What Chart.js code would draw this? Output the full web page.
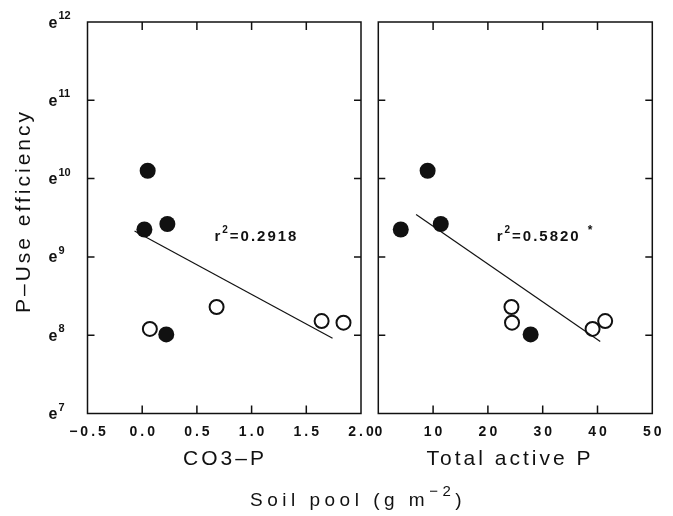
<!DOCTYPE html>
<html>
<head>
<meta charset="utf-8">
<script src="https://cdn.jsdelivr.net/npm/chart.js@4.4.0/dist/chart.umd.min.js"></script>
<style>
  body { margin: 0; background: #fff; }
  #wrap { position: relative; width: 673px; height: 516px; }
  #wrap canvas { position: absolute; left: 0; top: 0; }
</style>
</head>
<body>
<div id="wrap">
  <canvas id="left" width="673" height="516"></canvas>
  <canvas id="right" width="673" height="516"></canvas>
</div>
<script>
// P-use efficiency, stored as the exponent of e
const effFilled = [10.10, 9.35, 9.42, 8.01];
const effOpen = [8.08, 8.36, 8.18, 8.16];

// soil pools (g m-2), same sites in both panels
const co3Filled = [0.05, 0.02, 0.23, 0.22];
const co3Open = [0.07, 0.68, 1.64, 1.84];
const activeFilled = [9.0, 4.1, 11.4, 27.8];
const activeOpen = [39.1, 24.3, 41.4, 24.4];

// regression lines, end points
const co3FitX = [-0.07, 1.74];
const co3FitY = [9.33, 7.96];
const activeFitX = [6.9, 40.5];
const activeFitY = [9.54, 7.92];

// ticks
const yExp = [7, 8, 9, 10, 11, 12];
const co3Ticks = [-0.5, 0, 0.5, 1.0, 1.5, 2.0];
const co3Labels = ["\u22120.5", "0.0", "0.5", "1.0", "1.5", "2.0"];
const activeTicks = [0, 10, 20, 30, 40, 50];
const activeLabels = ["0", "10", "20", "30", "40", "50"];

const INK = "#111";
const FONT = '"Liberation Sans", Arial, sans-serif';

function pts(xs, ys) {
  return xs.map((x, i) => ({ x: x, y: ys[i] }));
}

// draws base text then a raised smaller part, returns end x
function supText(ctx, x, y, base, sup, baseFont, supFont, rise) {
  ctx.font = baseFont;
  ctx.fillText(base, x, y);
  x += ctx.measureText(base).width;
  ctx.font = supFont;
  ctx.fillText(sup, x, y - rise);
  return x + ctx.measureText(sup).width;
}

// frame, inward ticks, labels and titles
const frame = {
  id: "frame",
  afterDraw(chart, args, o) {
    const ctx = chart.ctx, a = chart.chartArea;
    const xs = chart.scales.x, ys = chart.scales.y;
    ctx.save();
    ctx.strokeStyle = INK;
    ctx.fillStyle = INK;
    ctx.lineWidth = 1.5;
    ctx.strokeRect(a.left, a.top, a.right - a.left, a.bottom - a.top);

    ctx.beginPath();
    o.xTicks.forEach(v => {
      const px = xs.getPixelForValue(v);
      if (px > a.left + 2 && px < a.right - 2) {
        ctx.moveTo(px, a.bottom); ctx.lineTo(px, a.bottom - 8);
        ctx.moveTo(px, a.top); ctx.lineTo(px, a.top + 8);
      }
    });
    yExp.forEach(v => {
      const py = ys.getPixelForValue(v);
      if (py > a.top + 2 && py < a.bottom - 2) {
        ctx.moveTo(a.left, py); ctx.lineTo(a.left + 7, py);
        ctx.moveTo(a.right, py); ctx.lineTo(a.right - 7, py);
      }
    });
    ctx.stroke();

    // x tick labels
    ctx.font = "bold 14px " + FONT;
    ctx.letterSpacing = "3px";
    ctx.textAlign = "center";
    ctx.textBaseline = "middle";
    o.xTicks.forEach((v, i) => {
      ctx.fillText(o.xLabels[i], xs.getPixelForValue(v) + 1.5, a.bottom + 19);
    });

    // x title
    ctx.font = "21px " + FONT;
    ctx.fillText(o.xTitle, o.xTitleX, a.bottom + 46);

    // r squared
    ctx.letterSpacing = "2px";
    ctx.textAlign = "left";
    ctx.textBaseline = "alphabetic";
    let rx = xs.getPixelForValue(o.r2At[0]);
    const ry = ys.getPixelForValue(o.r2At[1]);
    rx = supText(ctx, rx, ry, "r", "2", "bold 15px " + FONT, "bold 10px " + FONT, 8);
    ctx.font = "bold 15px " + FONT;
    ctx.fillText(o.r2, rx, ry);
    if (o.star) {
      ctx.font = "bold 12px " + FONT;
      ctx.fillText("*", rx + ctx.measureText(o.r2).width + 18, ry - 7);
    }

    if (o.yLabels) {
      ctx.letterSpacing = "0px";
      yExp.forEach(v => {
        const py = ys.getPixelForValue(v);
        ctx.font = "bold 16px " + FONT;
        ctx.fillText("e", 48.5, py + 5.5);
        ctx.font = "bold 11px " + FONT;
        ctx.fillText(String(v), 58.5, py - 3);
      });

      // y title
      ctx.letterSpacing = "3px";
      ctx.save();
      ctx.translate(24, 211);
      ctx.rotate(-Math.PI / 2);
      ctx.font = "21px " + FONT;
      ctx.textAlign = "center";
      ctx.textBaseline = "middle";
      ctx.fillText("P\u2013Use efficiency", 0, 0);
      ctx.restore();

      // shared title under both panels
      ctx.letterSpacing = "4.5px";
      ctx.textAlign = "left";
      let tx = supText(ctx, 250, 506, "Soil pool (g m", "\u22122", "19px " + FONT, "15px " + FONT, 10);
      ctx.font = "19px " + FONT;
      ctx.fillText(")", tx, 506);
    }
    ctx.restore();
  }
};

function panel(id, fitX, fitY, xf, xo, xmin, xmax, pad, opts) {
  return new Chart(document.getElementById(id), {
    type: "scatter",
    data: {
      datasets: [
        {
          data: pts(fitX, fitY),
          showLine: true,
          borderColor: INK,
          borderWidth: 1.2,
          pointRadius: 0
        },
        {
          data: pts(xf, effFilled),
          pointRadius: 8,
          backgroundColor: INK,
          borderColor: INK,
          borderWidth: 0
        },
        {
          data: pts(xo, effOpen),
          pointRadius: 7,
          backgroundColor: "#fff",
          borderColor: INK,
          borderWidth: 2
        }
      ]
    },
    options: {
      responsive: false,
      animation: false,
      devicePixelRatio: 1,
      events: [],
      layout: { autoPadding: false, padding: pad },
      scales: {
        x: { type: "linear", display: false, min: xmin, max: xmax },
        y: { type: "linear", display: false, min: 7, max: 12 }
      },
      plugins: {
        legend: { display: false },
        tooltip: { enabled: false },
        frame: opts
      }
    },
    plugins: [frame]
  });
}

panel("left", co3FitX, co3FitY, co3Filled, co3Open, -0.5, 2.0,
  { left: 87.5, right: 312, top: 22, bottom: 102.5 },
  { xTicks: co3Ticks, xLabels: co3Labels, xTitle: "CO3\u2013P", xTitleX: 225,
    r2At: [0.66, 9.2], r2: "=0.2918", star: false, yLabels: true });

panel("right", activeFitX, activeFitY, activeFilled, activeOpen, 0, 50,
  { left: 378.3, right: 20.7, top: 22, bottom: 102.5 },
  { xTicks: activeTicks, xLabels: activeLabels, xTitle: "Total active P", xTitleX: 510,
    r2At: [21.6, 9.2], r2: "=0.5820", star: true, yLabels: false });
</script>
</body>
</html>
